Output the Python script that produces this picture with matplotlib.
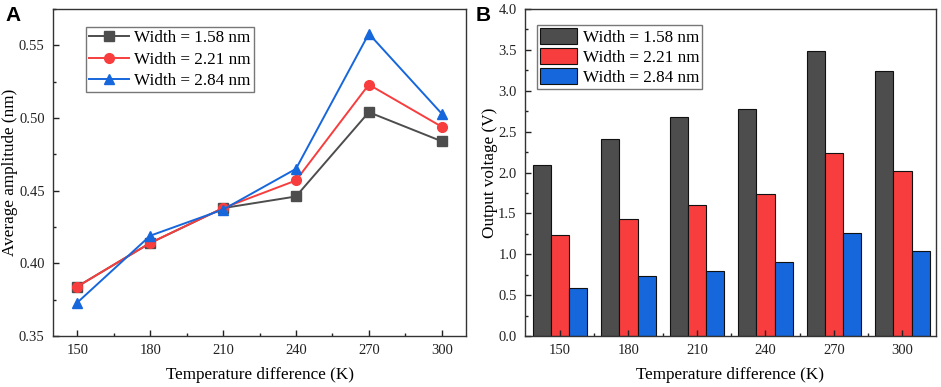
import matplotlib
matplotlib.use("Agg")
import matplotlib.pyplot as plt
import numpy as np
from matplotlib.ticker import MultipleLocator

temps = [150, 180, 210, 240, 270, 300]
labels = ["Width = 1.58 nm", "Width = 2.21 nm", "Width = 2.84 nm"]

amp_158 = [0.384, 0.414, 0.438, 0.446, 0.504, 0.484]
amp_221 = [0.384, 0.414, 0.438, 0.457, 0.523, 0.494]
amp_284 = [0.373, 0.419, 0.437, 0.465, 0.558, 0.503]

volt_158 = [2.09, 2.41, 2.68, 2.78, 3.49, 3.24]
volt_221 = [1.24, 1.43, 1.60, 1.74, 2.24, 2.02]
volt_284 = [0.59, 0.74, 0.80, 0.90, 1.26, 1.04]

colors = ["#4d4d4d", "#f73d3d", "#1666dc"]
markers = ["s", "o", "^"]

plt.rcParams['font.family'] = ['Liberation Serif', 'DejaVu Serif']

fig = plt.figure(figsize=(9.41, 3.87), dpi=100)
W, H = 941, 387
axA = fig.add_axes([53 / W, 1 - 336 / H, (466 - 53) / W, (336 - 9) / H])
axB = fig.add_axes([525 / W, 1 - 336 / H, (936 - 525) / W, (336 - 9) / H])

def style(ax):
    for s in ["top", "right", "left", "bottom"]:
        ax.spines[s].set_linewidth(1.0)
        ax.spines[s].set_color("#333333")
    ax.tick_params(which="both", direction="in", top=False, right=False,
                   labelsize=10.5, colors="#222222", pad=6)
    ax.tick_params(which="major", length=4, width=1)
    ax.tick_params(which="minor", length=2.5, width=1)

LFS = 12.3

# Panel A
for vals, c, m, lab in zip([amp_158, amp_221, amp_284], colors, markers, labels):
    axA.plot(temps, vals, color=c, marker=m, markersize=7, linewidth=1.4, label=lab)
axA.set_xlim(140, 310)
axA.set_ylim(0.35, 0.575)
axA.set_xticks(temps)
axA.xaxis.set_minor_locator(MultipleLocator(15))
axA.yaxis.set_major_locator(MultipleLocator(0.05))
axA.yaxis.set_minor_locator(MultipleLocator(0.025))
axA.yaxis.set_major_formatter(matplotlib.ticker.FormatStrFormatter('%.2f'))
style(axA)
axA.set_xlabel("Temperature difference (K)", fontsize=LFS, labelpad=7)
axA.set_ylabel("Average amplitude (nm)", fontsize=LFS, labelpad=1)
legA = axA.legend(loc="upper left", bbox_to_anchor=(0.08, 0.945), fontsize=LFS,
                  frameon=True, fancybox=False, edgecolor="#777777", framealpha=1,
                  handlelength=2.3, borderpad=0.2, labelspacing=0.3, handletextpad=0.3,
                  borderaxespad=0)
legA.get_frame().set_linewidth(1.0)

# Panel B
x = np.arange(len(temps))
bw = 0.267
for i, (vals, c, lab) in enumerate(zip([volt_158, volt_221, volt_284], colors, labels)):
    axB.bar(x + (i - 1) * bw, vals, width=bw, color=c, edgecolor="#111111",
            linewidth=0.8, label=lab)
axB.set_xlim(-0.51, 5.49)
axB.set_ylim(0, 4.0)
axB.set_xticks(x)
axB.set_xticklabels([str(t) for t in temps])
axB.set_xticks(x[:-1] + 0.5, minor=True)
axB.yaxis.set_major_locator(MultipleLocator(0.5))
axB.yaxis.set_minor_locator(MultipleLocator(0.25))
axB.yaxis.set_major_formatter(matplotlib.ticker.FormatStrFormatter('%.1f'))
style(axB)
axB.set_xlabel("Temperature difference (K)", fontsize=LFS, labelpad=7)
axB.set_ylabel("Output voltage (V)", fontsize=LFS, labelpad=0)
legB = axB.legend(loc="upper left", bbox_to_anchor=(0.03, 0.95), fontsize=LFS,
                  frameon=True, fancybox=False, edgecolor="#777777", framealpha=1,
                  handlelength=2.2, handleheight=1.1, borderpad=0.15, labelspacing=0.12,
                  handletextpad=0.3, borderaxespad=0)
legB.get_frame().set_linewidth(1.0)

fig.text(5 / W, 1 - 21 / H, "A", fontsize=15, fontweight="bold", family="Liberation Sans")
fig.text(476 / W, 1 - 21 / H, "B", fontsize=15, fontweight="bold", family="Liberation Sans")

fig.savefig("out.png", dpi=100)
